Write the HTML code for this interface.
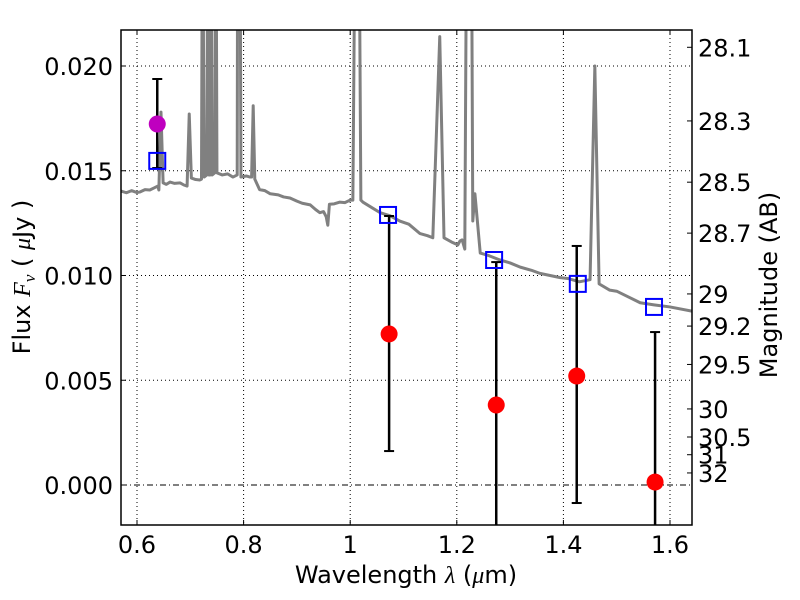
<!DOCTYPE html>
<html><head><meta charset="utf-8">
<style>
html,body{margin:0;padding:0;background:#fff;}
svg{display:block;font-family:"DejaVu Sans","Liberation Sans",sans-serif;}
</style></head>
<body>
<svg id="chart" width="800" height="600" viewBox="0 0 800 600" xmlns="http://www.w3.org/2000/svg">
<defs><clipPath id="clip"><rect x="121" y="30" width="571" height="495"/></clipPath></defs>
<rect width="800" height="600" fill="#fff"/>
<g id="grid"></g>
<g id="plot" clip-path="url(#clip)"></g>
<g id="axes"></g>
</svg>
<script>
const specWave = [0.570,0.580,0.590,0.600,0.606,0.615,0.624,0.632,0.639,0.641,0.645,0.649,0.655,0.662,0.670,0.681,0.688,0.694,0.698,0.702,0.710,0.718,0.721,0.723,0.726,0.731,0.733,0.735,0.737,0.739,0.741,0.746,0.748,0.750,0.760,0.770,0.780,0.788,0.789,0.793,0.795,0.805,0.812,0.815,0.818,0.821,0.830,0.840,0.850,0.865,0.875,0.887,0.900,0.910,0.925,0.935,0.943,0.950,0.955,0.958,0.961,0.970,0.980,0.990,1.000,1.005,1.010,1.016,1.020,1.024,1.040,1.056,1.075,1.093,1.110,1.131,1.145,1.155,1.168,1.176,1.190,1.202,1.206,1.210,1.215,1.219,1.227,1.230,1.234,1.244,1.260,1.281,1.300,1.319,1.340,1.356,1.375,1.394,1.410,1.430,1.450,1.459,1.467,1.487,1.500,1.520,1.544,1.570,1.600,1.641];
const specFlux = [0.01403,0.01395,0.01405,0.01396,0.01399,0.01410,0.01408,0.01418,0.01427,0.01408,0.0178,0.01442,0.01435,0.01446,0.01440,0.01442,0.01432,0.01427,0.01771,0.01465,0.01458,0.01456,0.0146,0.03,0.0147,0.0148,0.03,0.0148,0.0148,0.03,0.0148,0.0149,0.03,0.0149,0.0148,0.01485,0.0147,0.0148,0.03,0.03,0.0147,0.01475,0.0147,0.0147,0.0181,0.0146,0.0141,0.01405,0.0139,0.01385,0.01375,0.0137,0.01355,0.01345,0.01337,0.01315,0.0130,0.01305,0.0128,0.0124,0.0134,0.01342,0.0135,0.01348,0.0136,0.0136,0.03,0.03,0.0136,0.0135,0.01325,0.0130,0.01285,0.0126,0.01245,0.0120,0.0119,0.0118,0.0214,0.0118,0.01160,0.01146,0.01165,0.0117,0.01126,0.03,0.03,0.0126,0.0139,0.01107,0.01095,0.01074,0.01060,0.0104,0.01025,0.0101,0.01000,0.0099,0.00985,0.0097,0.0098,0.0200,0.0096,0.0093,0.00925,0.0090,0.0087,0.0086,0.0085,0.0083];
const modelWave = [0.638,1.071,1.270,1.427,1.570];
const modelFlux = [0.01547,0.01289,0.01074,0.0096,0.0085];
const obsWave = [1.073,1.274,1.425,1.572];
const obsFlux = [0.00721,0.00382,0.0052,0.00014];
const obsLow = [0.00162,-0.005,-0.00086,-0.005];
const obsHigh = [0.01284,0.01064,0.01141,0.0073];
const magWave = [0.638];
const magFlux = [0.01723];
const magLow = [0.01513];
const magHigh = [0.01938];
const xTicks = [0.6,0.8,1.0,1.2,1.4,1.6];
const xTickLabels = ["0.6","0.8","1","1.2","1.4","1.6"];
const yTicks = [0,0.005,0.010,0.015,0.020];
const yTickLabels = ["0.000","0.005","0.010","0.015","0.020"];
const magTicks = [28.1,28.3,28.5,28.7,29,29.2,29.5,30,30.5,31,32];
const magTickLabels = ["28.1","28.3","28.5","28.7","29","29.2","29.5","30","30.5","31","32"];

const L=121,R=692,T=30,B=525;
const X = v => 137 + (v-0.6)*533;
const Y = v => 485 - v*20950;
const NS="http://www.w3.org/2000/svg";
function mk(tag, attrs, parent){const e=document.createElementNS(NS,tag);for(const k in attrs)e.setAttribute(k,attrs[k]);parent.appendChild(e);return e;}
const grid=document.getElementById('grid'), plot=document.getElementById('plot'), axes=document.getElementById('axes');

xTicks.forEach((t,i)=>{
  const g=mk('line',{x1:X(t),x2:X(t),y1:T,y2:B,stroke:'#000','stroke-width':1,'stroke-dasharray':'1,3'},grid);
  
  
  mk('line',{x1:X(t),x2:X(t),y1:B,y2:B-5,stroke:'#000'},axes);
  mk('line',{x1:X(t),x2:X(t),y1:T,y2:T+5,stroke:'#000'},axes);
  const tx=mk('text',{x:X(t),y:553,'font-size':24,'text-anchor':'middle'},axes);
  tx.textContent=xTickLabels[i];
  
  
});
yTicks.forEach((t,i)=>{
  const g=mk('line',{x1:L,x2:R,y1:Y(t),y2:Y(t),stroke:'#000','stroke-width':1,'stroke-dasharray':t===0?'6,3,1,3':'1,3'},grid);
  
  
  mk('line',{x1:L,x2:L+5,y1:Y(t),y2:Y(t),stroke:'#000'},axes);
  const tx=mk('text',{x:113,y:Y(t)+9,'font-size':24,'text-anchor':'end'},axes);
  tx.textContent=yTickLabels[i];
  
  
});
magTicks.forEach((m,i)=>{
  const y=Y(Math.pow(10,(23.9-m)/2.5));
  mk('line',{x1:R,x2:R-5,y1:y,y2:y,stroke:'#000'},axes);
  const tx=mk('text',{x:698,y:y+9,'font-size':24},axes);
  tx.textContent=magTickLabels[i];
  
  
});

const sp=mk('polyline',{points:specWave.map((w,i)=>X(w)+','+Y(specFlux[i])).join(' '),fill:'none',stroke:'#808080','stroke-width':3,'stroke-linejoin':'round'},plot);



function errbar(x,lo,hi){
  mk('line',{x1:X(x),x2:X(x),y1:Y(lo),y2:Y(hi),stroke:'#000','stroke-width':2.5},plot);
  mk('line',{x1:X(x)-5,x2:X(x)+5,y1:Y(lo),y2:Y(lo),stroke:'#000','stroke-width':2},plot);
  mk('line',{x1:X(x)-5,x2:X(x)+5,y1:Y(hi),y2:Y(hi),stroke:'#000','stroke-width':2},plot);
}
magWave.forEach((w,i)=>errbar(w,magLow[i],magHigh[i]));
obsWave.forEach((w,i)=>errbar(w,obsLow[i],obsHigh[i]));
modelWave.forEach((w,i)=>{
  const r=mk('rect',{x:X(w)-8,y:Y(modelFlux[i])-8,width:16,height:16,fill:'none',stroke:'#0000ff','stroke-width':2},plot);
  
  
});
obsWave.forEach((w,i)=>{
  const c=mk('circle',{cx:X(w),cy:Y(obsFlux[i]),r:8.5,fill:'#ff0000'},plot);
  
  
});
magWave.forEach((w,i)=>{
  const c=mk('circle',{cx:X(w),cy:Y(magFlux[i]),r:8.5,fill:'#bf00bf'},plot);
  
  
});

const fr=mk('rect',{x:L,y:T,width:R-L,height:B-T,fill:'none',stroke:'#000','stroke-width':1.5},axes);


const xl=mk('text',{x:406,y:583,'font-size':24,'text-anchor':'middle'},axes);
xl.innerHTML='Wavelength  <tspan font-family="Liberation Serif, serif" font-style="italic">λ</tspan> (<tspan font-family="Liberation Serif, serif" font-style="italic">μ</tspan>m)';


const yl=mk('text',{x:0,y:0,'font-size':24,'text-anchor':'middle',transform:'translate(30,277) rotate(-90)'},axes);
yl.innerHTML='Flux  <tspan font-family="Liberation Serif, serif" font-style="italic">F</tspan><tspan font-family="Liberation Serif, serif" font-style="italic" font-size="17" dy="5">ν</tspan><tspan dy="-5">  ( </tspan><tspan font-family="Liberation Serif, serif" font-style="italic">μ</tspan>Jy )';


const ml=mk('text',{x:0,y:0,'font-size':24,'text-anchor':'middle',transform:'translate(777,285) rotate(-90)'},axes);
ml.textContent='Magnitude (AB)';


</script>
</body></html>
